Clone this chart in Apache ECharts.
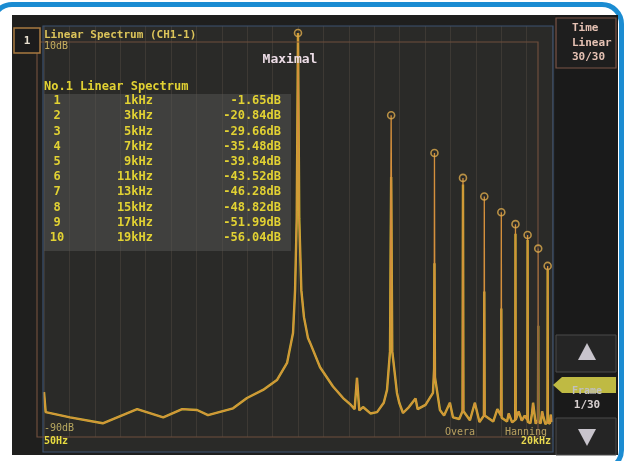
<!DOCTYPE html>
<html>
<head>
<meta charset="utf-8">
<script src="https://cdn.jsdelivr.net/npm/echarts@6/dist/echarts.min.js"></script>
<style>
  html, body { margin: 0; padding: 0; background: #ffffff; overflow: hidden; }
  #wrap { position: relative; width: 631px; height: 461px; overflow: hidden; background: #ffffff; }
  #frame { position: absolute; left: -10px; top: 2px; width: 634px; height: 470px; box-sizing: border-box;
           border: 5px solid #1b8cd2; border-radius: 22px; }
  #screen { position: absolute; left: 12px; top: 15px; width: 606px; height: 440px; background: #1f1f1e; }
  #plotbg { position: absolute; left: 43px; top: 26px; width: 510px; height: 426px; background: #2a2a28; }
  #panel { position: absolute; left: 555px; top: 15px; width: 63px; height: 440px; background: #1a1a1a; }
  #chart { position: absolute; left: 0; top: 0; width: 631px; height: 461px; }
</style>
</head>
<body>
<div id="wrap">
  <div id="frame"></div>
  <div id="screen"></div>
  <div id="plotbg"></div>
  <div id="panel"></div>
  <div id="chart"></div>
</div>
<script>
// ---- data ----
const harmonicHz = [1000, 3000, 5000, 7000, 9000, 11000, 13000, 15000, 17000, 19000];
const harmonicLabels = ['1kHz', '3kHz', '5kHz', '7kHz', '9kHz', '11kHz', '13kHz', '15kHz', '17kHz', '19kHz'];
const maximalDb = [-1.65, -20.84, -29.66, -35.48, -39.84, -43.52, -46.28, -48.82, -51.99, -56.04];
const currentDb = [-1.65, -35.3, -55.4, -37.0, -62.0, -66.0, -48.5, -50.0, -70.0, -57.0];
const floorTrace = [
  [50, -85.5], [51, -90.2], [68, -91.4], [100, -92.8], [150, -89.5], [204, -91.4], [255, -89.5],
  [304, -89.7], [346, -90.9], [465, -89.3], [548, -86.9], [662, -85.0], [780, -82.7], [879, -78.7],
  [943, -71.7], [966, -61.7], [985, -45.0],
  [1015, -45.0], [1040, -61.7], [1073, -68.0], [1125, -72.9], [1151, -73.9], [1297, -79.7],
  [1511, -84.2], [1702, -86.9], [1847, -88.3], [1950, -89.5], [2005, -82.2], [2060, -89.8],
  [2153, -89.0], [2350, -90.5], [2541, -90.2], [2750, -88.0], [2858, -85.0], [2960, -76.0],
  [3040, -76.0], [3213, -85.7], [3300, -88.0], [3450, -90.4], [3700, -89.0], [4000, -87.0],
  [4100, -89.5], [4500, -88.5], [4913, -85.7], [4980, -80.0],
  [5030, -82.0], [5333, -89.7], [5600, -91.0], [6000, -88.0], [6219, -91.4], [6700, -91.8], [6960, -90.0],
  [7040, -90.0], [7600, -92.1], [8050, -88.0], [8500, -92.5], [8960, -91.0],
  [9040, -91.0], [10000, -92.4], [10500, -89.5], [10960, -91.0],
  [11040, -91.5], [11770, -92.4], [12000, -90.5], [12500, -92.6], [12960, -92.0],
  [13040, -92.0], [13500, -90.0], [14000, -92.2], [14500, -91.0], [14960, -92.0],
  [15040, -92.5], [15500, -92.8], [15800, -90.5], [16000, -88.0], [16500, -92.9], [16960, -92.0],
  [17040, -92.5], [17500, -92.8], [17800, -90.0], [18000, -91.0], [18500, -93.0], [18960, -92.5],
  [19040, -92.5], [19500, -92.9], [19700, -90.8], [20000, -92.5]
];
const axisTexts = { top: '10dB', bottom: '-90dB', left: '50Hz', right: '20kHz' };

// ---- build traces ----
function buildTrace(peaks) {
  const pts = floorTrace.map(p => [p[0], p[1]]);
  harmonicHz.forEach((hz, i) => pts.push([hz, peaks[i]]));
  pts.sort((a, b) => a[0] - b[0]);
  return pts;
}
const maximalData = buildTrace(maximalDb);
const currentData = buildTrace(currentDb);
const markerData = harmonicHz.map((hz, i) => [hz, maximalDb[i]]);

const mono = '"DejaVu Sans Mono", "Liberation Mono", monospace';
const yel = '#e2d233';
const graphics = [];
function txt(x, y, s, opt) {
  opt = opt || {};
  graphics.push({
    type: 'text', x: x, y: y, z: 100, silent: true,
    style: {
      text: s, fill: opt.fill || yel,
      font: (opt.weight || 'bold') + ' ' + (opt.size || 12) + 'px ' + mono,
      textAlign: opt.align || 'left', textVerticalAlign: 'middle'
    }
  });
}
function rect(x, y, w, h, style, z) {
  graphics.push({ type: 'rect', shape: { x: x, y: y, width: w, height: h }, z: z || 1, silent: true, style: style });
}

// frames of the display
rect(43, 26, 510, 426, { fill: 'none', stroke: '#3d5270', lineWidth: 1.2 }, 5);
rect(37, 42, 501, 395, { fill: 'none', stroke: '#6e4e3c', lineWidth: 1.2 }, 5);
// table background
rect(44, 94, 247, 157, { fill: 'rgba(90,90,88,0.45)' }, 1);
// channel box
rect(14, 28, 26, 25, { fill: '#1c1c1c', stroke: '#a87a40', lineWidth: 1.5 }, 6);
txt(27, 41, '1', { fill: '#e8e0d0', size: 11, align: 'center' });
txt(44, 35, 'Linear Spectrum (CH1-1)', { fill: '#dcc45a', size: 11 });
txt(44, 46, axisTexts.top, { fill: '#c8b060', size: 10, weight: 'normal' });
txt(290, 60, 'Maximal', { fill: '#ecdce6', size: 13, align: 'center' });
// table
txt(44, 87, 'No.1 Linear Spectrum', { size: 12 });
harmonicLabels.forEach((lab, i) => {
  const y = 101 + i * 15.2;
  txt(57, y, String(i + 1), { size: 12, align: 'center' });
  txt(153, y, lab, { size: 12, align: 'right' });
  txt(281, y, maximalDb[i].toFixed(2) + 'dB', { size: 12, align: 'right' });
});
// bottom labels
txt(44, 428, axisTexts.bottom, { fill: '#b8a860', size: 10, weight: 'normal' });
txt(44, 441, axisTexts.left, { fill: '#e8dc40', size: 10 });
txt(551, 441, axisTexts.right, { fill: '#e8d850', size: 10, align: 'right' });
txt(445, 432, 'Overa', { fill: '#b8a060', size: 10, weight: 'normal' });
txt(505, 432, 'Hanning', { fill: '#b8a060', size: 10, weight: 'normal' });
// right panel
rect(556, 18, 60, 50, { fill: '#1e1e1e', stroke: '#7a5446', lineWidth: 1.2 }, 6);
txt(572, 28, 'Time', { fill: '#e6c2b4', size: 11 });
txt(572, 43, 'Linear', { fill: '#e6c2b4', size: 11 });
txt(572, 57, '30/30', { fill: '#e6c2b4', size: 11 });
rect(556, 335, 60, 37, { fill: '#252525', stroke: '#4a4a4a', lineWidth: 1 }, 6);
graphics.push({ type: 'polygon', z: 7, silent: true, shape: { points: [[587, 343], [578, 360], [596, 360]] }, style: { fill: '#c8c4cc' } });
rect(556, 418, 60, 37, { fill: '#252525', stroke: '#4a4a4a', lineWidth: 1 }, 6);
graphics.push({ type: 'polygon', z: 7, silent: true, shape: { points: [[578, 429], [596, 429], [587, 446]] }, style: { fill: '#c8c4cc' } });
txt(587, 391, 'Frame', { fill: '#c0c0c0', size: 10, align: 'center' });
graphics.push({ type: 'polygon', z: 8, silent: true, shape: { points: [[553, 385], [562, 377], [616, 377], [616, 393], [562, 393]] }, style: { fill: 'rgba(205,200,70,0.92)' } });
txt(587, 405, '1/30', { fill: '#d8d0d0', size: 11, align: 'center' });

const chart = echarts.init(document.getElementById('chart'), null, { renderer: 'canvas' });
chart.setOption({
  backgroundColor: 'transparent',
  animation: false,
  grid: { left: 44, right: 79, top: 26, bottom: 24 },
  xAxis: [
    { type: 'log', logBase: 10, min: 50, max: 20000, show: false },
    { type: 'value', min: 0, max: 20, interval: 1, show: true,
      axisLine: { show: false }, axisTick: { show: false }, axisLabel: { show: false },
      splitLine: { show: true, lineStyle: { color: 'rgba(130,115,95,0.22)', width: 1 } } }
  ],
  yAxis: { type: 'value', min: -96, max: 0, show: false, splitLine: { show: false } },
  graphic: graphics,
  series: [
    { name: 'Current', type: 'line', xAxisIndex: 0, data: currentData, showSymbol: false, z: 3,
      lineStyle: { color: '#c9b32e', width: 2.4 } },
    { name: 'Maximal', type: 'line', xAxisIndex: 0, data: maximalData, showSymbol: false, z: 4,
      lineStyle: { color: '#d48f3c', width: 1.3 } },
    { name: 'Peaks', type: 'scatter', xAxisIndex: 0, data: markerData, symbol: 'circle', symbolSize: 7, z: 5,
      itemStyle: { color: 'rgba(0,0,0,0)', borderColor: '#dcaa4c', borderWidth: 1.6 } }
  ]
});
</script>
</body>
</html>
